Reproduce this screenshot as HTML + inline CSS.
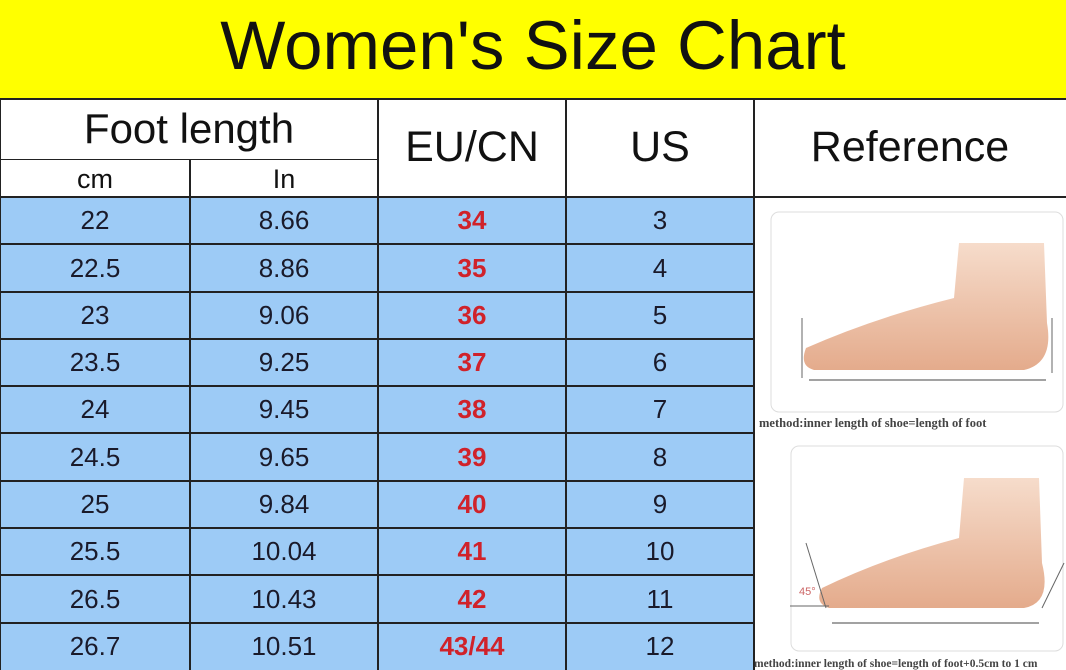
<!DOCTYPE html>
<html><head><style>
body{margin:0;width:1066px;height:670px;overflow:hidden;background:#fff;font-family:"Liberation Sans",sans-serif;position:relative}
.a{position:absolute}
.t{position:absolute;text-align:center;color:#111}
.h{position:absolute;background:#222;height:2px}
.v{position:absolute;background:#222;width:2px}
</style></head><body>
<div class="a" style="left:0;top:0;width:1066px;height:99px;background:#ffff00"></div>
<div class="t" style="left:0;top:6px;width:1066px;font-size:69px;line-height:80px">Women's Size Chart</div>
<div class="a" style="left:0;top:197px;width:754px;height:473px;background:#9dcbf6"></div>
<div class="h" style="left:0;top:98px;width:1066px"></div>
<div class="h" style="left:0;top:159px;width:378px;height:1px"></div>
<div class="h" style="left:0;top:196px;width:1066px"></div>
<div class="v" style="left:189px;top:159px;height:511px"></div>
<div class="v" style="left:377px;top:98px;height:572px"></div>
<div class="v" style="left:565px;top:98px;height:572px"></div>
<div class="v" style="left:753px;top:98px;height:572px"></div>
<div class="v" style="left:0;top:98px;height:572px;width:1px"></div>
<div class="t" style="left:0;top:104px;width:378px;font-size:42px;line-height:50px">Foot length</div>
<div class="t" style="left:0;top:162px;width:190px;font-size:27px;line-height:34px">cm</div>
<div class="t" style="left:190px;top:162px;width:188px;font-size:27px;line-height:34px">In</div>
<div class="t" style="left:378px;top:122px;width:188px;font-size:43px;line-height:50px">EU/CN</div>
<div class="t" style="left:566px;top:122px;width:188px;font-size:43px;line-height:50px">US</div>
<div class="t" style="left:754px;top:122px;width:312px;font-size:43px;line-height:50px">Reference</div>
<div id="rows"></div>
<svg class="a" style="left:754px;top:198px" width="312" height="472" viewBox="0 0 312 472">
<defs><linearGradient id="g" x1="0" y1="0" x2="0" y2="1"><stop offset="0" stop-color="#f6dccb"/><stop offset="1" stop-color="#e4ab8c"/></linearGradient></defs>
<rect x="17" y="14" width="292" height="200" rx="8" fill="#fff" stroke="#ddd"/>
<path d="M205 45 L290 45 L293 125 Q300 165 270 172 L60 172 Q45 168 52 150 Q120 120 200 100 Z" fill="url(#g)"/>
<line x1="48" y1="120" x2="48" y2="180" stroke="#666"/><line x1="298" y1="120" x2="298" y2="175" stroke="#666"/>
<line x1="55" y1="182" x2="292" y2="182" stroke="#444"/>
<text x="5" y="229" font-family="Liberation Serif" font-size="12.5" font-weight="bold" fill="#444">method:inner length of shoe=length of foot</text>
<rect x="37" y="248" width="272" height="205" rx="8" fill="#fff" stroke="#ddd"/>
<path d="M210 280 L285 280 L288 365 Q298 405 270 410 L75 410 Q60 405 68 390 Q130 360 205 340 Z" fill="url(#g)"/>
<line x1="52" y1="345" x2="72" y2="410" stroke="#666"/><line x1="36" y1="408" x2="75" y2="408" stroke="#666"/>
<line x1="310" y1="365" x2="288" y2="410" stroke="#666"/>
<text x="45" y="397" font-size="11" fill="#c66">45°</text>
<line x1="78" y1="425" x2="285" y2="425" stroke="#444"/>
<text x="0" y="469" font-family="Liberation Serif" font-size="11.5" font-weight="bold" fill="#444">method:inner length of shoe=length of foot+0.5cm to 1 cm</text>
</svg>
<script>
var d=[["22","8.66","34","3"],["22.5","8.86","35","4"],["23","9.06","36","5"],["23.5","9.25","37","6"],["24","9.45","38","7"],["24.5","9.65","39","8"],["25","9.84","40","9"],["25.5","10.04","41","10"],["26.5","10.43","42","11"],["26.7","10.51","43/44","12"]];
var ys=[197,244,292,339,386,433,481,528,575,623,670],h="";
for(var i=0;i<10;i++){var y=ys[i],hh=ys[i+1]-y;
if(i>0)h+='<div class="h" style="left:0;top:'+(y-1)+'px;width:754px"></div>';
var L=[[0,190],[190,188],[378,188],[566,188]];
for(var j=0;j<4;j++)h+='<div class="t" style="left:'+L[j][0]+'px;top:'+y+'px;width:'+L[j][1]+'px;height:'+hh+'px;line-height:'+hh+'px;font-size:26px;'+(j==2?'color:#d0222a;font-weight:bold;':'color:#1a1a2a;')+'">'+d[i][j]+'</div>';}
document.getElementById('rows').innerHTML=h;
</script>
</body></html>
